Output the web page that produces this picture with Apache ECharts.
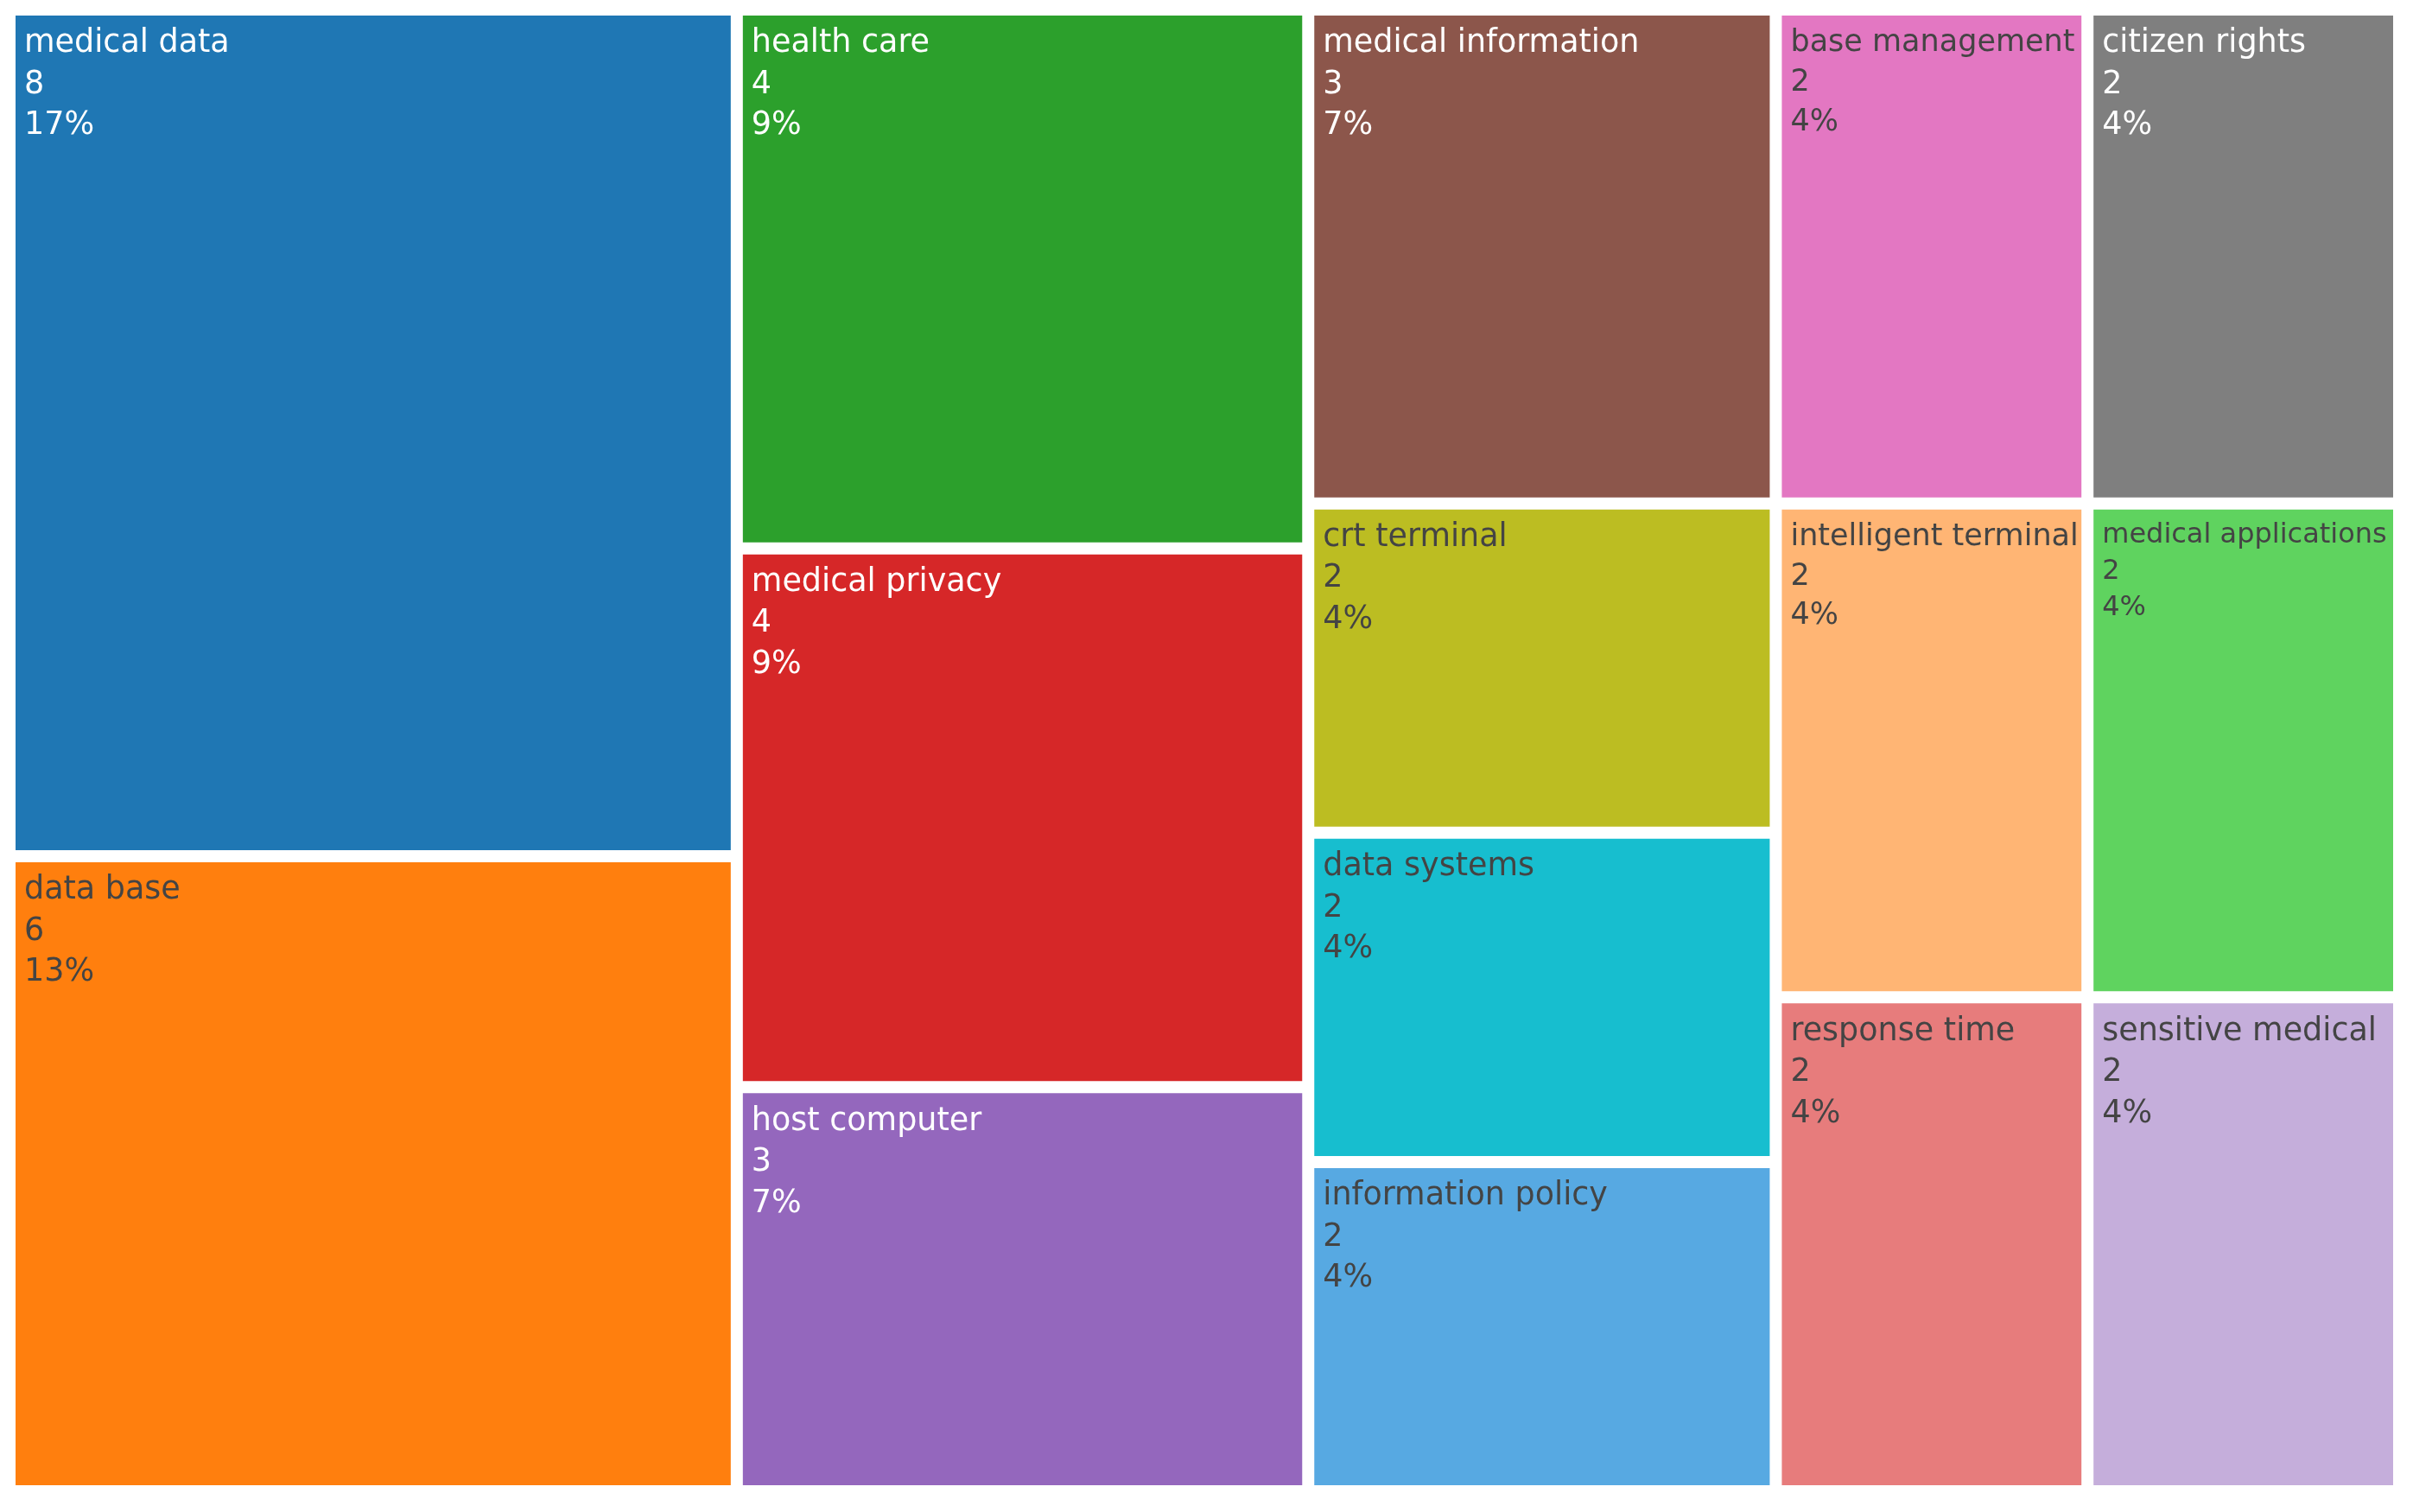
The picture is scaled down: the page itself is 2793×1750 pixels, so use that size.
<!DOCTYPE html>
<html>
<head>
<meta charset="utf-8">
<script src="https://cdn.jsdelivr.net/npm/echarts@6/dist/echarts.min.js"></script>
<style>
  html, body { margin: 0; padding: 0; background: #ffffff; }
  #chart { width: 2793px; height: 1750px; }
</style>
</head>
<body>
<div id="chart"></div>
<script>
// ---- data ----
const categories = [
  'medical data', 'data base', 'health care', 'medical privacy', 'host computer',
  'medical information', 'base management', 'citizen rights', 'crt terminal',
  'data systems', 'information policy', 'intelligent terminal',
  'medical applications', 'response time', 'sensitive medical'
];
const counts = [8, 6, 4, 4, 3, 3, 2, 2, 2, 2, 2, 2, 2, 2, 2];

// ---- styles ----
const tileColors = [
  '#1f77b4', '#ff7f0e', '#2ca02c', '#d62728', '#9467bd',
  '#8c564b', '#e377c2', '#7f7f7f', '#bcbd22', '#17becf',
  '#57a9e2', '#ffb574', '#5fd35f', '#e77c7c', '#c5aedb'
];
const labelColors = [
  '#ffffff', '#444444', '#ffffff', '#ffffff', '#ffffff',
  '#ffffff', '#444444', '#ffffff', '#444444', '#444444',
  '#444444', '#444444', '#444444', '#444444', '#444444'
];
const fontSizeOverride = { 'medical applications': 32, 'intelligent terminal': 35, 'base management': 35 };

const total = counts.reduce((a, b) => a + b, 0);

const data = categories.map((name, i) => {
  const fs = fontSizeOverride[name] || 36.5;
  return {
    name: name,
    value: counts[i],
    itemStyle: { color: tileColors[i] },
    label: { color: labelColors[i], fontSize: fs, lineHeight: Math.min(fs * 1.31, 47.5) }
  };
});

const chart = echarts.init(document.getElementById('chart'), null, { renderer: 'canvas' });
chart.setOption({
  backgroundColor: '#ffffff',
  animation: false,
  series: [{
    type: 'treemap',
    left: 18,
    top: 18,
    width: 2752,
    height: 1701,
    squareRatio: 1,
    sort: false,
    roam: false,
    nodeClick: false,
    breadcrumb: { show: false },
    silent: true,
    itemStyle: { gapWidth: 14, borderWidth: 0, borderColor: '#ffffff' },
    levels: [
      { itemStyle: { gapWidth: 14, borderWidth: 0 } },
      { itemStyle: { borderWidth: 0 } }
    ],
    label: {
      show: true,
      position: [5, 4],
      fontFamily: 'DejaVu Sans',
      fontSize: 36.5,
      lineHeight: 47.5,
      overflow: 'none',
      formatter: function (p) {
        return p.name + '\n' + p.value + '\n' + Math.round(p.value / total * 100) + '%';
      }
    },
    upperLabel: { show: false },
    emphasis: { disabled: true },
    data: data
  }]
});
</script>
</body>
</html>
